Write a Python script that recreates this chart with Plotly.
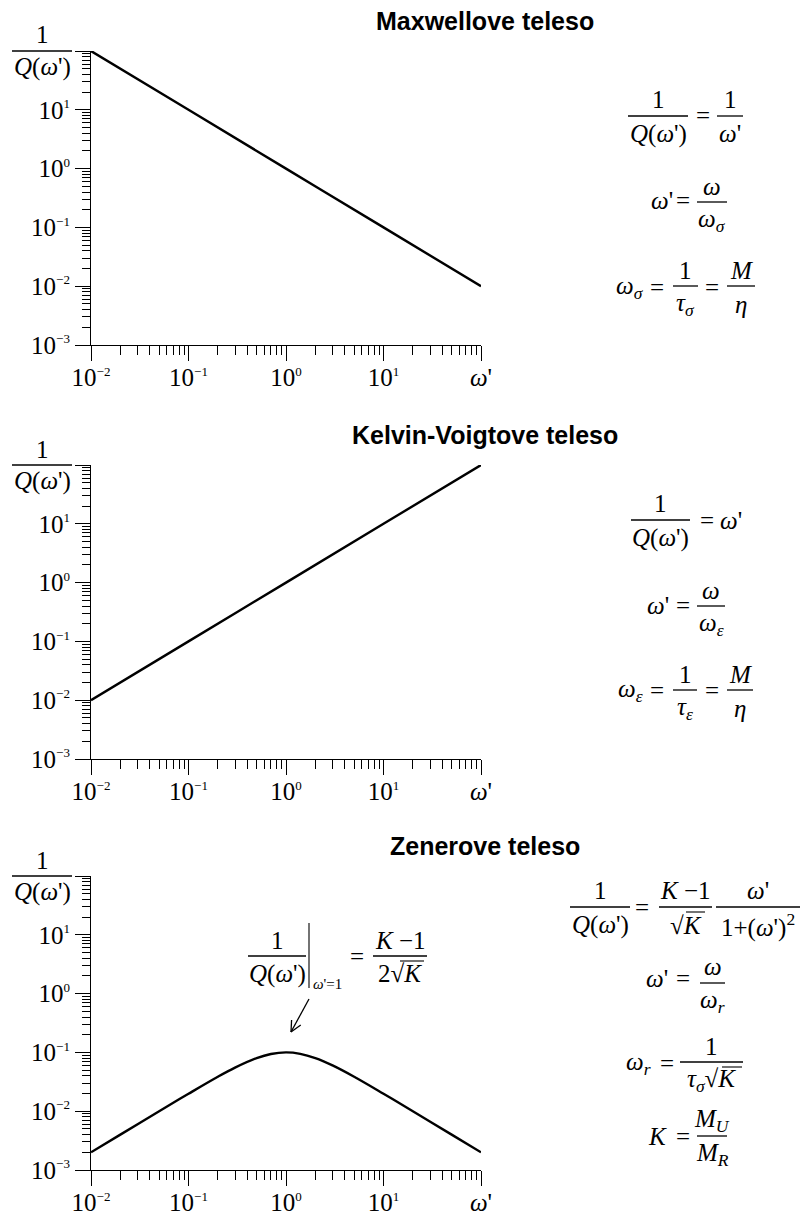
import math
import plotly.graph_objects as go

# ---- data ----
SUP = '<sup><span style="font-size:13px">{}</span></sup>'
x_ticks = [0.01, 0.1, 1, 10, 100]
x_ticktext = ["10" + SUP.format("−2"), "10" + SUP.format("−1"), "10" + SUP.format("0"),
              "10" + SUP.format("1"), "<i>ω</i>'"]
y_ticks = [0.001, 0.01, 0.1, 1, 10, 100]
y_ticktext = ["10" + SUP.format("−3"), "10" + SUP.format("−2"), "10" + SUP.format("−1"),
              "10" + SUP.format("0"), "10" + SUP.format("1"), ""]

maxwell_w = [0.01, 0.1, 1, 10, 100]
maxwell_q = [100, 10, 1, 0.1, 0.01]

kelvin_w = [0.01, 0.1, 1, 10, 100]
kelvin_q = [0.01, 0.1, 1, 10, 100]

zener_w = [0.01, 0.02, 0.05, 0.1, 0.2, 0.3, 0.5, 0.7, 1, 1.4, 2, 3, 5, 10, 20, 50, 100]
zener_q = [0.002, 0.004, 0.01, 0.0198, 0.0385, 0.055, 0.08, 0.094, 0.1, 0.0946, 0.08,
           0.06, 0.0385, 0.0198, 0.01, 0.004, 0.002]

titles = ["Maxwellove teleso", "Kelvin-Voigtove teleso", "Zenerove teleso"]

W, H = 801, 1215
SERIF = "Liberation Serif, Times New Roman, serif"
SANS = "Liberation Sans, Arial, sans-serif"
FS = 25
TICK_FS = 25

# plot frames in pixels: (top, bottom)
frames = [(51, 345), (465, 759), (876, 1170)]
X0, X1 = 91, 481


def px(x):
    return x / W


def py(y):
    return 1 - y / H


minor_x = [m * 10 ** e for e in range(-2, 2) for m in range(2, 10)]
minor_y = [m * 10 ** e for e in range(-3, 2) for m in range(2, 10)]

fig = go.Figure()
annotations = []
shapes = []


def text(x, y, s, size=FS, family=SERIF, anchor="center"):
    annotations.append(dict(x=px(x), y=py(y), xref="paper", yref="paper", text=s,
                            showarrow=False, xanchor=anchor, yanchor="middle",
                            font=dict(family=family, size=size, color="black")))


def line(x0, y0, x1, y1, w=1.3):
    shapes.append(dict(type="line", xref="paper", yref="paper", x0=px(x0), y0=py(y0),
                       x1=px(x1), y1=py(y1), line=dict(color="black", width=w)))


def frac(x0, x1, y, num, den, up=16, down=18):
    line(x0, y, x1, y)
    xc = (x0 + x1) / 2
    text(xc, y - up, num)
    text(xc, y + down, den)


Q = "<i>Q</i>(<i>ω</i>')"
OM = "<i>ω</i>'"

data = [(maxwell_w, maxwell_q), (kelvin_w, kelvin_q), (zener_w, zener_q)]
for i, ((top, bot), (wv, qv)) in enumerate(zip(frames, data), start=1):
    xa = "x" if i == 1 else f"x{i}"
    ya = "y" if i == 1 else f"y{i}"
    fig.add_trace(go.Scatter(x=wv, y=qv, mode="lines", xaxis=xa, yaxis=ya,
                             line=dict(color="black", width=2.4, shape="spline"),
                             cliponaxis=False, showlegend=False, hoverinfo="skip"))
    axis_common = dict(type="log", showgrid=False, zeroline=False, showline=True,
                       linecolor="black", linewidth=1.2, ticks="outside", ticklen=15,
                       tickwidth=1.2, tickcolor="black", tickmode="array", automargin=False,
                       tickfont=dict(family=SERIF, size=TICK_FS, color="black"))
    fig.update_layout(**{
        ("xaxis" if i == 1 else f"xaxis{i}"): dict(
            axis_common, range=[-2, 2], domain=[px(X0), px(X1)], anchor=ya,
            tickvals=x_ticks, ticktext=x_ticktext, ticklabelstandoff=-5,
            minor=dict(tickmode="array", tickvals=minor_x, ticks="outside", ticklen=9,
                       tickwidth=1, tickcolor="black")),
        ("yaxis" if i == 1 else f"yaxis{i}"): dict(
            axis_common, range=[-3, 2], domain=[py(bot), py(top)], anchor=xa,
            tickvals=y_ticks, ticktext=y_ticktext,
            minor=dict(tickmode="array", tickvals=minor_y, ticks="outside", ticklen=8,
                       tickwidth=1, tickcolor="black")),
    })
    # y-axis label as a fraction at the top of the axis
    frac(12, 72, top, "1", Q, up=16, down=16)
    text(485, top - 30, f"<b>{titles[i - 1]}</b>", size=25, family=SANS)

# ---- Maxwell formulas ----
frac(628, 688, 116, "1", Q)
text(703, 116, "=")
frac(717, 743, 116, "1", OM)
text(662, 201, OM)
text(683, 201, "=")
frac(697, 727, 202, "<i>ω</i>", "<i>ω</i><sub><i>σ</i></sub>")
text(630, 287, "<i>ω</i><sub><i>σ</i></sub>")
text(657, 287, "=")
frac(673, 698, 286, "1", "<i>τ</i><sub><i>σ</i></sub>")
text(712, 287, "=")
frac(727, 755, 286, "<i>M</i>", "<i>η</i>")

# ---- Kelvin-Voigt formulas ----
frac(631, 690, 520, "1", Q)
text(707, 520, "=")
text(731, 520, OM)
text(658, 605, OM)
text(683, 605, "=")
frac(697, 725, 606, "<i>ω</i>", "<i>ω</i><sub><i>ε</i></sub>")
text(630, 690, "<i>ω</i><sub><i>ε</i></sub>")
text(657, 690, "=")
frac(673, 697, 690, "1", "<i>τ</i><sub><i>ε</i></sub>")
text(712, 690, "=")
frac(727, 753, 690, "<i>M</i>", "<i>η</i>")

# ---- Zener formulas ----
frac(570, 630, 907, "1", Q)
text(642, 907, "=")
frac(659, 712, 907, "<i>K</i> −1", "√<i>K</i>")
line(686, 912, 705, 912, 1.1)
frac(716, 800, 907, OM, "1+(<i>ω</i>')<sup>2</sup>")
text(657, 978, OM)
text(683, 978, "=")
frac(700, 725, 983, "<i>ω</i>", "<i>ω</i><sub><i>r</i></sub>")
text(638, 1063, "<i>ω</i><sub><i>r</i></sub>")
text(667, 1063, "=")
frac(680, 743, 1062, "1", "<i>τ</i><sub><i>σ</i></sub>√<i>K</i>")
line(722, 1067, 742, 1067, 1.1)
text(657, 1136, "<i>K</i>")
text(683, 1136, "=")
frac(697, 727, 1136, "<i>M</i><sub><i>U</i></sub>", "<i>M</i><sub><i>R</i></sub>")

# peak annotation
frac(248, 306, 956, "1", Q)
line(309, 923, 309, 988, 1.1)
text(327, 984, "<i>ω</i>'=1", size=15)
text(357, 956, "=")
frac(373, 427, 956, "<i>K</i> −1", "2√<i>K</i>")
line(400, 961, 424, 961, 1.1)

tip = (291, 1032)
tail = (309, 999)
line(tail[0], tail[1], tip[0], tip[1], 1.3)
dx, dy = tail[0] - tip[0], tail[1] - tip[1]
ln = math.hypot(dx, dy)
ux, uy = dx / ln, dy / ln
for ang in (0.45, -0.45):
    ca, sa = math.cos(ang), math.sin(ang)
    hx, hy = ux * ca - uy * sa, ux * sa + uy * ca
    line(tip[0], tip[1], tip[0] + 12 * hx, tip[1] + 12 * hy, 1.3)

fig.update_layout(width=W, height=H, margin=dict(l=0, r=0, t=0, b=0, autoexpand=False),
                  paper_bgcolor="white", plot_bgcolor="white",
                  annotations=annotations, shapes=shapes, showlegend=False)

fig.write_html("out.html")
